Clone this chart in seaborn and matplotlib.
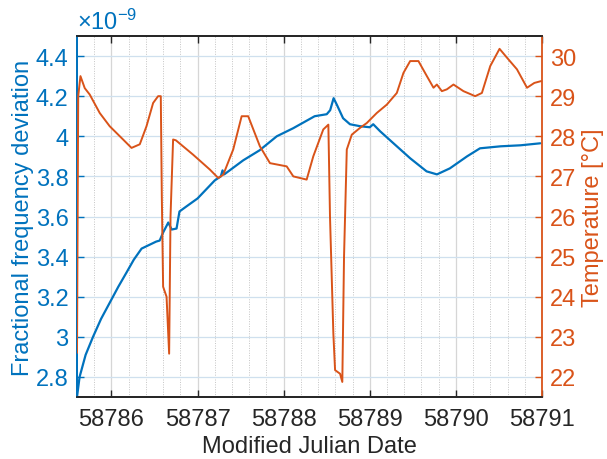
import numpy as np
import pandas as pd
import matplotlib
matplotlib.use("Agg")
import matplotlib.pyplot as plt
import seaborn as sns
from matplotlib.ticker import MultipleLocator, FixedLocator, FuncFormatter

# ---- data ----
mjd_freq = [58785.600, 58785.630, 58785.700, 58785.786, 58785.880, 58785.980,
            58786.080, 58786.174, 58786.260, 58786.350,
            58786.520, 58786.560, 58786.600, 58786.660, 58786.700, 58786.756,
            58786.790, 58786.870, 58787.000, 58787.200, 58787.270, 58787.290,
            58787.310, 58787.530, 58787.720, 58787.920, 58788.110, 58788.360,
            58788.500, 58788.540, 58788.580, 58788.620, 58788.690, 58788.770,
            58788.890, 58789.000, 58789.040, 58789.120, 58789.270, 58789.470,
            58789.660, 58789.780, 58789.930, 58790.130, 58790.280, 58790.520,
            58790.750, 58790.980]
freq_dev = [2.70, 2.80, 2.91, 3.00, 3.09, 3.17,
            3.25, 3.32, 3.385, 3.44,
            3.475, 3.48, 3.52, 3.57, 3.535, 3.54,
            3.625, 3.65, 3.69, 3.78, 3.80, 3.83,
            3.81, 3.88, 3.93, 4.00, 4.04, 4.10,
            4.11, 4.13, 4.19, 4.155, 4.09, 4.06,
            4.05, 4.045, 4.06, 4.025, 3.967, 3.89,
            3.825, 3.81, 3.84, 3.90, 3.94, 3.95,
            3.955, 3.965]

mjd_temp = [58785.600, 58785.614, 58785.640, 58785.690, 58785.748, 58785.864,
            58785.980, 58786.135, 58786.233, 58786.329, 58786.407, 58786.484,
            58786.542, 58786.573, 58786.585, 58786.600, 58786.640, 58786.670,
            58786.686, 58786.716, 58786.748, 58786.949, 58787.143, 58787.240,
            58787.298, 58787.414, 58787.512, 58787.588, 58787.724, 58787.841,
            58788.035, 58788.112, 58788.267, 58788.344, 58788.460, 58788.519,
            58788.538, 58788.577, 58788.597, 58788.655, 58788.681, 58788.701,
            58788.733, 58788.791, 58788.887, 58788.965, 58789.081, 58789.198,
            58789.314, 58789.391, 58789.469, 58789.565, 58789.663, 58789.740,
            58789.779, 58789.837, 58789.895, 58789.972, 58790.088, 58790.224,
            58790.302, 58790.399, 58790.507, 58790.593, 58790.709, 58790.826,
            58790.911, 58790.989]
temperature = [22.6, 29.0, 29.5, 29.2, 29.04, 28.58,
               28.25, 27.92, 27.71, 27.8, 28.25, 28.83,
               29.0, 29.0, 26.5, 24.25, 24.0, 22.58,
               26.0, 27.92, 27.9, 27.54, 27.17, 26.96,
               27.04, 27.67, 28.5, 28.5, 27.75, 27.33,
               27.25, 27.0, 26.92, 27.5, 28.17, 28.29,
               26.0, 23.08, 22.17, 22.08, 21.875, 25.0,
               27.67, 28.04, 28.21, 28.33, 28.58, 28.79,
               29.08, 29.58, 29.875, 29.875, 29.5, 29.21,
               29.29, 29.125, 29.17, 29.29, 29.125, 29.0,
               29.08, 29.75, 30.18, 29.96, 29.67, 29.21,
               29.33, 29.375]

x_ticks = [58786, 58787, 58788, 58789, 58790, 58791]
freq_ticks = [2.8, 3.0, 3.2, 3.4, 3.6, 3.8, 4.0, 4.2, 4.4]
temp_ticks = [22, 23, 24, 25, 26, 27, 28, 29, 30]

freq_df = pd.DataFrame({"mjd": mjd_freq, "freq": freq_dev})
temp_df = pd.DataFrame({"mjd": mjd_temp, "temp": temperature})

# ---- style ----
sns.set_style("white")
plt.rcParams["font.family"] = ["Liberation Sans", "DejaVu Sans"]
plt.rcParams["mathtext.fontset"] = "custom"
plt.rcParams["mathtext.rm"] = "Liberation Sans"
plt.rcParams["mathtext.it"] = "Liberation Sans"

BLUE = "#0072BD"
ORANGE = "#D95319"
DARK = "#262626"
FS = 17

fig = plt.figure(figsize=(6.07, 4.6), dpi=100)
ax = fig.add_axes([77 / 607, 62 / 460, 465 / 607, 361 / 460])
ax2 = ax.twinx()

sns.lineplot(data=freq_df, x="mjd", y="freq", ax=ax, color=BLUE,
             linewidth=1.6, sort=False, estimator=None, zorder=3)
sns.lineplot(data=temp_df, x="mjd", y="temp", ax=ax2, color=ORANGE,
             linewidth=1.4, sort=False, estimator=None, zorder=3)

ax.set_xlim(58785.6, 58791)
ax.set_ylim(2.7, 4.5)
ax2.set_ylim(21.5, 30.5)

ax.xaxis.set_major_locator(FixedLocator(x_ticks))
ax.xaxis.set_minor_locator(MultipleLocator(0.2))
ax.xaxis.set_major_formatter(FuncFormatter(lambda v, p: f"{v:.0f}"))
ax.yaxis.set_major_locator(FixedLocator(freq_ticks))
ax.yaxis.set_major_formatter(FuncFormatter(lambda v, p: f"{v:g}"))
ax2.yaxis.set_major_locator(FixedLocator(temp_ticks))
ax2.yaxis.set_major_formatter(FuncFormatter(lambda v, p: f"{v:g}"))

# grid
ax.set_axisbelow(True)
ax.grid(True, which="major", axis="x", color="#d6d6d6", linewidth=0.9, linestyle="-")
ax.grid(True, which="minor", axis="x", color="#c4c4c4", linewidth=0.7, linestyle=(0, (1, 1.5)))
ax.grid(True, which="major", axis="y", color="#cfe0ee", linewidth=0.9, linestyle="-")

# ticks
ax.tick_params(axis="x", which="major", direction="in", length=5, width=1.0,
               top=True, bottom=True, colors=DARK, labelsize=FS, pad=8)
ax.tick_params(axis="x", which="minor", length=0, top=False, bottom=False)
ax.tick_params(axis="y", which="major", direction="in", length=5, width=1.0,
               colors=BLUE, labelsize=FS, pad=6)
ax2.tick_params(axis="y", which="major", direction="in", length=5, width=1.0,
                colors=ORANGE, labelsize=FS, pad=6)

# spines
for a in (ax, ax2):
    for s in a.spines.values():
        s.set_linewidth(1.3)
ax.spines["top"].set_color(DARK)
ax.spines["bottom"].set_color(DARK)
ax.spines["left"].set_color(BLUE)
ax.spines["right"].set_visible(False)
ax2.spines["right"].set_color(ORANGE)
ax2.spines["left"].set_color(BLUE)
ax2.spines["top"].set_color(DARK)
ax2.spines["bottom"].set_color(DARK)

# labels
ax.set_xlabel("Modified Julian Date", fontsize=FS, color=DARK)
ax.set_ylabel("Fractional frequency deviation", fontsize=FS, color=BLUE)
ax2.set_ylabel("Temperature [°C]", fontsize=FS, color=ORANGE)
ax.xaxis.set_label_coords(0.5, -0.106)
ax.yaxis.set_label_coords(-0.093, 0.5)
ax2.yaxis.set_label_coords(1.086, 0.5)

ax.text(0.0, 1.006, r"$\times10^{-9}$", transform=ax.transAxes, color=BLUE,
        fontsize=FS, ha="left", va="bottom")

fig.savefig("out.png", dpi=100)
